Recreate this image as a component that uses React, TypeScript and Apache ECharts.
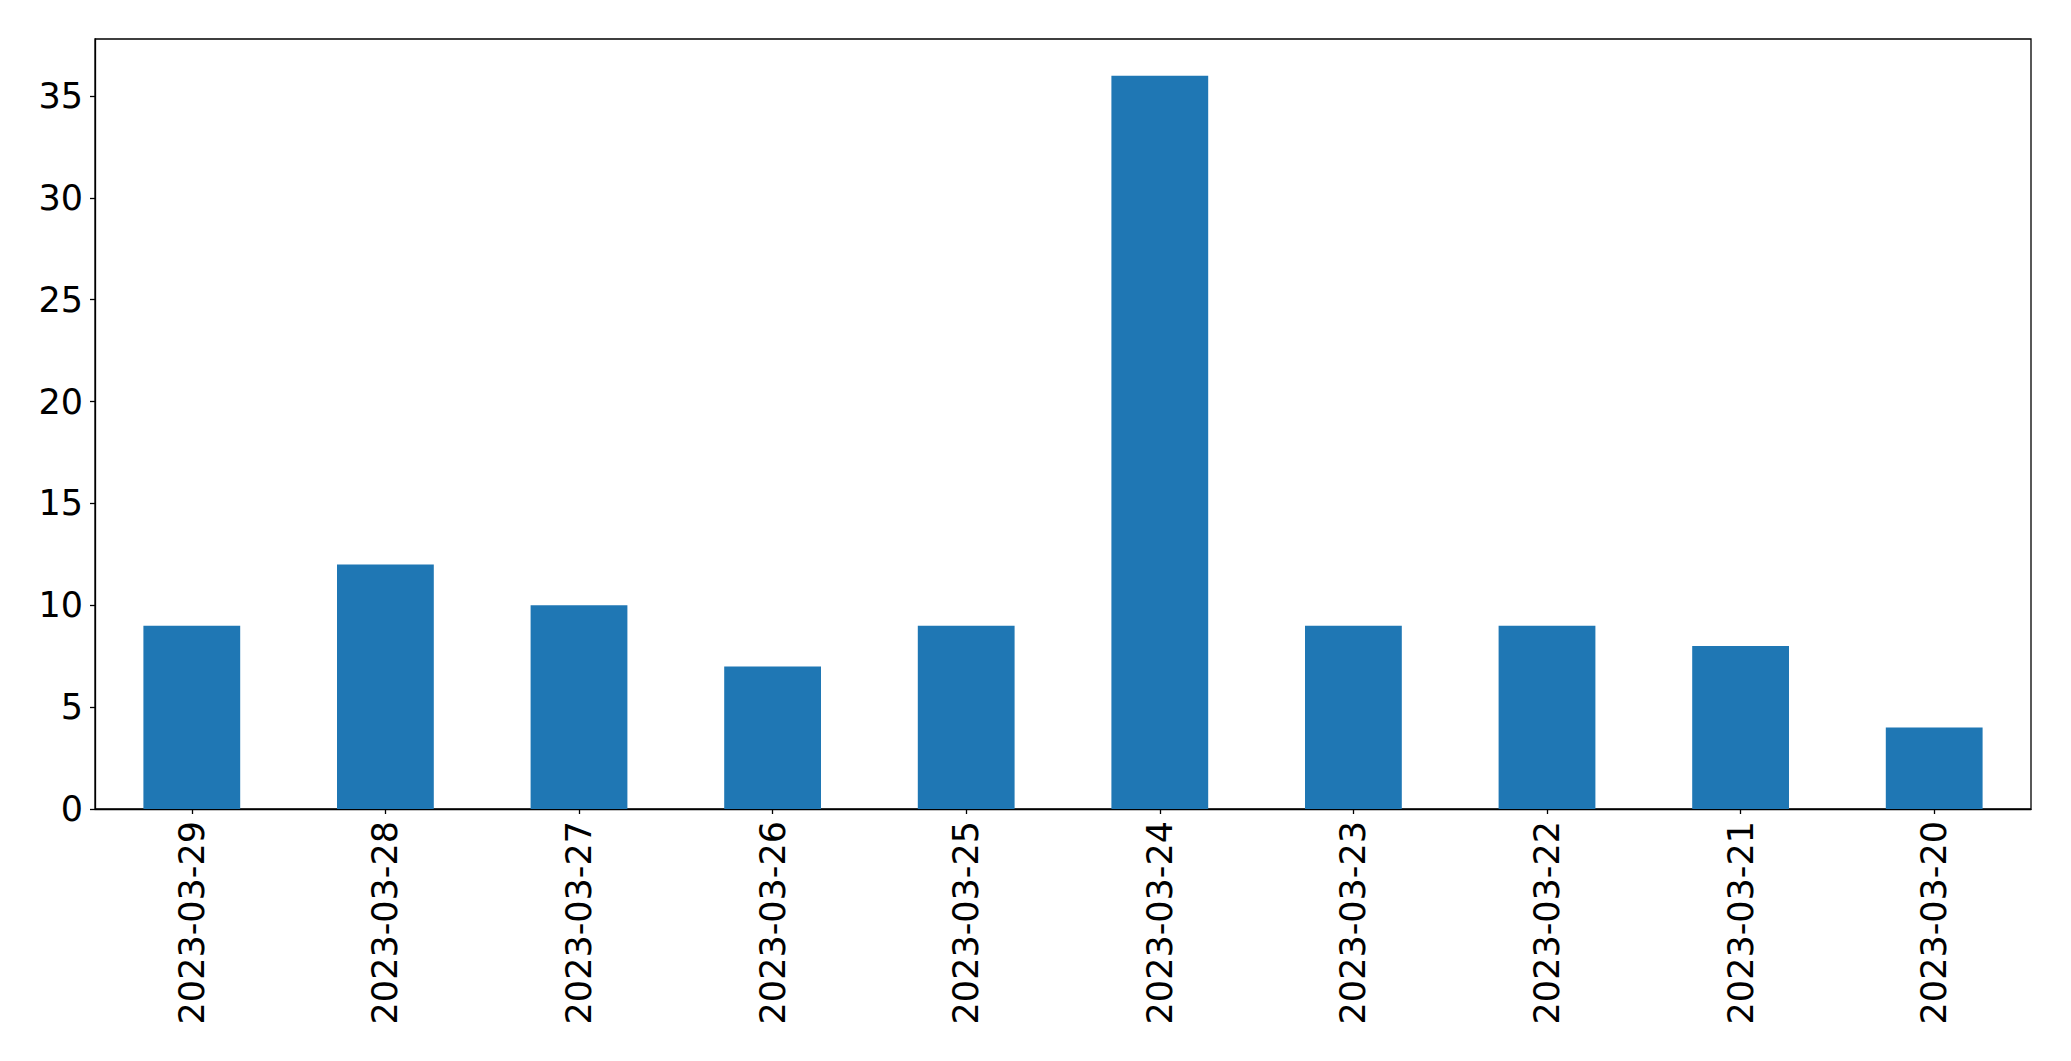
import React, { useEffect, useRef } from "react";
import * as echarts from "echarts";

const categories = [
  "2023-03-29", "2023-03-28", "2023-03-27", "2023-03-26", "2023-03-25",
  "2023-03-24", "2023-03-23", "2023-03-22", "2023-03-21", "2023-03-20",
];
const values = [9, 12, 10, 7, 9, 36, 9, 9, 8, 4];
const yTicks = [0, 5, 10, 15, 20, 25, 30, 35];

export default function App() {
  const ref = useRef<HTMLDivElement>(null);
  useEffect(() => {
    if (!ref.current) return;
    const chart = echarts.init(ref.current, undefined, { renderer: "svg" });
    const font = "DejaVu Sans";
    chart.setOption({
      animation: false,
      backgroundColor: "#ffffff",
      grid: {
        left: 95, right: 40, top: 39, bottom: 252,
        show: true, borderColor: "#000", borderWidth: 1.3, backgroundColor: "transparent",
      },
      xAxis: {
        type: "category",
        data: categories,
        axisLine: { show: true, lineStyle: { color: "#000", width: 1.3 } },
        axisTick: { show: true, alignWithLabel: true, length: 5, lineStyle: { color: "#000", width: 1.3 } },
        axisLabel: { rotate: 90, fontSize: 35, fontFamily: font, color: "#000", margin: 12 },
        splitLine: { show: false },
      },
      yAxis: {
        type: "value",
        min: 0, max: 37.8, interval: 5,
        axisLine: { show: true, lineStyle: { color: "#000", width: 1.3 } },
        axisTick: { show: true, length: 5, customValues: yTicks, lineStyle: { color: "#000", width: 1.3 } },
        axisLabel: {
          fontSize: 35, fontFamily: font, color: "#000", margin: 12,
          customValues: yTicks,
        },
        splitLine: { show: false },
      },
      series: [{
        type: "bar",
        data: values,
        barWidth: "50%",
        itemStyle: { color: "#1f77b4" },
      }],
    });
    return () => chart.dispose();
  }, []);
  return <div ref={ref} style={{ width: 2071, height: 1061, margin: -8 }} />;
}
